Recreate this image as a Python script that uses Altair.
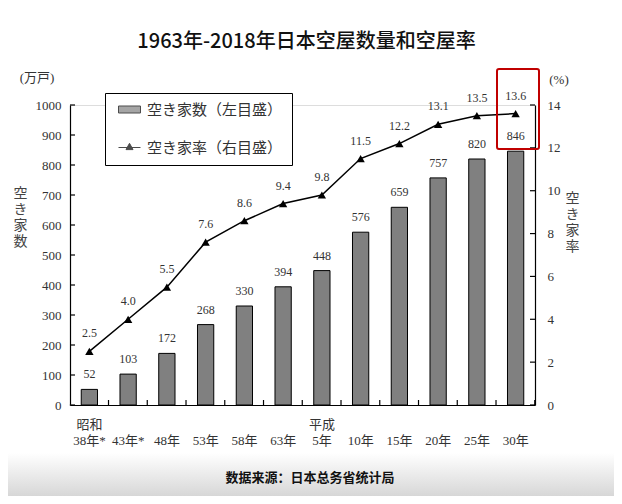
import altair as alt
import pandas as pd

# ---- data ----
years = ["38年*", "43年*", "48年", "53年", "58年", "63年", "5年", "10年", "15年", "20年", "25年", "30年"]
counts = [52, 103, 172, 268, 330, 394, 448, 576, 659, 757, 820, 846]
rates = [2.5, 4.0, 5.5, 7.6, 8.6, 9.4, 9.8, 11.5, 12.2, 13.1, 13.5, 13.6]
left_ticks = [0, 100, 200, 300, 400, 500, 600, 700, 800, 900, 1000]
right_ticks = [0, 2, 4, 6, 8, 10, 12, 14]
series = ["空き家数（左目盛）", "空き家率（右目盛）"]

df = pd.DataFrame({"year": years, "count": counts, "rate": rates})
df["rate_label"] = [f"{r:.1f}" for r in rates]

SERIF = "'Liberation Serif', 'Noto Sans CJK JP'"
JP = "Noto Sans CJK JP"
SC = "Noto Sans CJK SC"
W, H = 465, 300

xscale = alt.Scale(domain=years, paddingInner=0.58, paddingOuter=0.29)


def lsc():
    return alt.Scale(domain=[0, 1000])


def rsc():
    return alt.Scale(domain=[0, 14])


label_expr = ("datum.value == '38年*' ? ['昭和', datum.value] : "
              "datum.value == '5年' ? ['平成', datum.value] : ['', datum.value]")

xaxis = alt.Axis(title=None, labelAngle=0, ticks=False, labelExpr=label_expr,
                 labelFont=SERIF, labelFontSize=13, labelColor="#333",
                 labelLineHeight=16, labelPadding=13, domainColor="black",
                 domainWidth=1.2, labelBaseline="top")

base = alt.Chart(df)
one = pd.DataFrame({"a": [0]})

# background gradient strip at the bottom + source note
grad = alt.Chart(one).mark_rect(
    color=alt.Gradient(gradient="linear",
                       stops=[alt.GradientStop(color="#ffffff", offset=0),
                              alt.GradientStop(color="#d6d6d6", offset=1)],
                       x1=0, x2=0, y1=0, y2=1)
).encode(x=alt.value(-62), x2=alt.value(544), y=alt.value(348), y2=alt.value(392))

source = alt.Chart(one).mark_text(
    text="数据来源：日本总务省统计局", font=SC, fontSize=13, fontWeight="bold", color="#111"
).encode(x=alt.value(240), y=alt.value(373))

unit_l = alt.Chart(one).mark_text(
    text="(万戸)", font=SERIF, fontSize=13, color="#333"
).encode(x=alt.value(-33), y=alt.value(-27))

unit_r = alt.Chart(one).mark_text(
    text="(%)", font=SERIF, fontSize=13, color="#333"
).encode(x=alt.value(489), y=alt.value(-25))

bars = base.mark_bar(color="#808080", stroke="black", strokeWidth=1).encode(
    x=alt.X("year:N", scale=xscale, axis=xaxis, sort=years),
    y=alt.Y("count:Q", scale=lsc(),
            axis=alt.Axis(values=left_ticks, format="d", orient="left", ticks=False, grid=False,
                          labelFont=SERIF, labelFontSize=13, labelColor="#333",
                          labelPadding=9, domainColor="black", domainWidth=1.2,
                          title=["空", "き", "家", "数"], titleAngle=0, titleFont=JP,
                          titleFontSize=14, titleFontWeight="normal", titleColor="#444",
                          titleLineHeight=16, titleAlign="center", titleBaseline="top",
                          titleX=-50, titleY=81)),
)

bar_text = base.mark_text(baseline="bottom", dy=-8, font=SERIF, fontSize=12, color="#333").encode(
    x=alt.X("year:N", sort=years), y=alt.Y("count:Q", scale=lsc(), axis=None),
    text=alt.Text("count:Q"))

lticks = alt.Chart(pd.DataFrame({"v": left_ticks})).mark_rule(color="black", strokeWidth=1.2).encode(
    y=alt.Y("v:Q", scale=lsc(), axis=None), x=alt.value(0), x2=alt.value(5))

xticks = base.mark_rule(color="black", strokeWidth=1.2, xOffset=11).encode(
    x=alt.X("year:N", sort=years, bandPosition=1), y=alt.value(H), y2=alt.value(H - 5))

line = base.mark_line(color="black", strokeWidth=1.5).encode(
    x=alt.X("year:N", sort=years),
    y=alt.Y("rate:Q", scale=rsc(),
            axis=alt.Axis(values=right_ticks, orient="right", ticks=False, grid=False,
                          labelFont=SERIF, labelFontSize=13, labelColor="#333",
                          labelPadding=12, domainColor="black", domainWidth=1.2,
                          title=["空", "き", "家", "率"], titleAngle=0, titleFont=JP,
                          titleFontSize=14, titleFontWeight="normal", titleColor="#444",
                          titleLineHeight=16, titleAlign="center", titleBaseline="top",
                          titleX=37, titleY=86)),
)
pts = base.mark_point(shape="triangle-up", filled=True, size=70, color="black", opacity=1).encode(
    x=alt.X("year:N", sort=years), y=alt.Y("rate:Q", scale=rsc(), axis=None))
rate_text = base.mark_text(baseline="bottom", dy=-11, font=SERIF, fontSize=12, color="#333").encode(
    x=alt.X("year:N", sort=years), y=alt.Y("rate:Q", scale=rsc(), axis=None), text="rate_label:N")

rticks = alt.Chart(pd.DataFrame({"w": right_ticks})).mark_rule(color="black", strokeWidth=1.2).encode(
    y=alt.Y("w:Q", scale=rsc(), axis=None), x=alt.value(W), x2=alt.value(W - 5))

highlight = alt.Chart(one).mark_rect(
    fill="transparent", stroke="#c00000", strokeWidth=2, cornerRadius=2
).encode(x=alt.value(427), x2=alt.value(469), y=alt.value(-36), y2=alt.value(44))

bar_sym = "M-1.57,-0.5L1.57,-0.5L1.57,0.5L-1.57,0.5Z"
line_sym = "M-1.57,0L1.57,0M0,-0.6L0.5,0.3L-0.5,0.3Z"
legend = alt.Legend(title=None, orient="none", legendX=35, legendY=-12,
                    strokeColor="black", fillColor="white", padding=9,
                    labelFont=JP, labelFontSize=15, labelColor="#333",
                    symbolSize=196, symbolStrokeColor="black", symbolStrokeWidth=1,
                    symbolOffset=8, rowPadding=22, labelOffset=10, labelLimit=300)
# invisible carrier of the legend (a 1px dot hidden in the axis corner)
legend_layer = alt.Chart(pd.DataFrame({"series": series})).mark_point(filled=True, size=1).encode(
    x=alt.value(0), y=alt.value(H),
    color=alt.Color("series:N", scale=alt.Scale(domain=series, range=["#808080", "black"]), legend=legend),
    shape=alt.Shape("series:N", scale=alt.Scale(domain=series, range=[bar_sym, line_sym]), legend=legend),
)

chart = alt.layer(
    grad, bars, bar_text, lticks, xticks, source, unit_l,
    line, pts, rate_text, rticks, highlight, unit_r, legend_layer
).resolve_scale(y="independent").properties(
    width=W, height=H,
    padding={"left": 62, "top": 97, "right": 79, "bottom": 91},
    autosize=alt.AutoSizeParams(type="none"),
    title=alt.TitleParams("1963年-2018年日本空屋数量和空屋率", font=SC, fontSize=20,
                          fontWeight=500, color="#111", anchor="middle", dx=4, offset=16),
).configure_view(stroke=None).configure(background="white")

chart.save("out.html", embed_options={"renderer": "svg", "actions": False})
